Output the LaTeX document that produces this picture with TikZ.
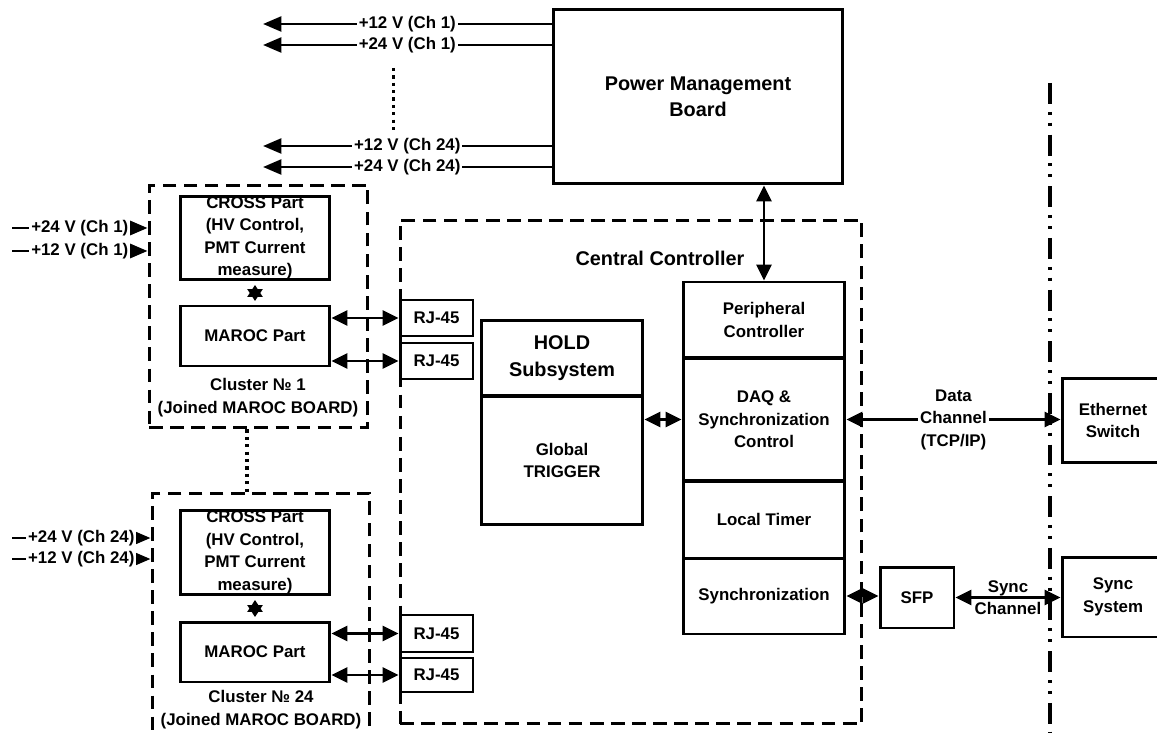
\documentclass[tikz,border=0pt]{standalone}
\usepackage{fontspec}
\setmainfont{Liberation Sans}
\usetikzlibrary{arrows.meta}

\tikzset{
  blk/.style={draw, line width=1.7pt, align=center, inner sep=0pt},
  grp/.style={draw, line width=1.7pt, dash pattern=on 7.8pt off 4.2pt, inner sep=0pt},
  lbl/.style={align=center, inner sep=1pt},
  onwire/.style={lbl, fill=white},
  bigtxt/.style={font=\bfseries\fontsize{11.3}{15}\selectfont},
  pwr/.style={line width=1.6pt, -{Triangle[length=10.5pt,width=8.5pt]}},
  dbl/.style={line width=1.6pt, {Triangle[length=9pt,width=8.5pt]}-{Triangle[length=9pt,width=8.5pt]}},
  star/.style={line width=1.6pt, shorten <=2pt, shorten >=2pt, {Triangle[length=6.8pt,width=8.5pt]}-{Triangle[length=6.8pt,width=8.5pt]}},
  dotline/.style={line width=2pt, dash pattern=on 1.8pt off 2.4pt},
  dashdot/.style={line width=2pt, dash pattern=on 11.9pt off 4.5pt on 1.7pt off 4.5pt on 1.7pt off 5.1pt},
}

\begin{document}
\begin{tikzpicture}[x=0.02cm, y=-0.02cm, every node/.style={font=\bfseries\fontsize{9.6}{12.8}\selectfont}]
\useasboundingbox (0,0) rectangle (1157,733);

% Dashed groups
\node[grp, minimum width=4.38cm, minimum height=4.86cm] (cl1) at (258.5,306.5) {};
\node[grp, minimum width=4.36cm, minimum height=4.94cm] (cl24) at (261,616.5) {};
\node[grp, minimum width=9.24cm, minimum height=10.08cm] (cc) at (631,472) {};
\node[bigtxt] (cclbl) at (660,258) {Central Controller};

% Power Management Board
\node[blk, bigtxt, minimum width=5.8cm, minimum height=3.5cm] (pmb) at (698,96.5) {Power Management\\Board};

% Cluster 1
\node[blk, minimum width=3cm, minimum height=1.68cm] (cross1) at (255,238) {CROSS Part\\(HV Control,\\PMT Current\\measure)};
\node[blk, minimum width=3cm, minimum height=1.2cm] (maroc1) at (255,336) {MAROC Part};
\node[lbl] (cl1lbl) at (258,397.5) {Cluster № 1\\(Joined MAROC BOARD)};

% Cluster 24
\node[blk, minimum width=3cm, minimum height=1.7cm] (cross24) at (255,552.5) {CROSS Part\\(HV Control,\\PMT Current\\measure)};
\node[blk, minimum width=3cm, minimum height=1.2cm] (maroc24) at (255,652) {MAROC Part};
\node[lbl] (cl24lbl) at (261,709.5) {Cluster № 24\\(Joined MAROC BOARD)};

% RJ-45 connectors
\node[blk, minimum width=1.46cm, minimum height=0.72cm] (rj1a) at (436.5,318) {RJ-45};
\node[blk, minimum width=1.46cm, minimum height=0.72cm] (rj1b) at (436.5,361) {RJ-45};
\node[blk, minimum width=1.46cm, minimum height=0.74cm] (rj24a) at (436.5,633.5) {RJ-45};
\node[blk, minimum width=1.46cm, minimum height=0.68cm] (rj24b) at (436.5,675) {RJ-45};

% HOLD / trigger
\node[blk, bigtxt, minimum width=3.24cm, minimum height=1.52cm] (hold) at (562,358) {HOLD\\Subsystem};
\node[blk, minimum width=3.24cm, minimum height=2.58cm] (trig) at (562,460.5) {Global\\TRIGGER};

% Controller column
\node[blk, minimum width=3.24cm, minimum height=1.52cm] (periph) at (764,320) {Peripheral\\Controller};
\node[blk, minimum width=3.24cm, minimum height=2.46cm] (daq) at (764,419.5) {DAQ \&\\Synchronization\\Control};
\node[blk, minimum width=3.24cm, minimum height=1.54cm] (timer) at (764,519.5) {Local Timer};
\node[blk, minimum width=3.24cm, minimum height=1.52cm] (syncb) at (764,596) {Synchronization};

% Outside
\node[blk, minimum width=1.48cm, minimum height=1.22cm] (sfp) at (917,597.5) {SFP};
\node[blk, minimum width=2.04cm, minimum height=1.7cm] (eth) at (1113,420.5) {Ethernet\\Switch};
\node[blk, minimum width=2.04cm, minimum height=1.6cm] (syncsys) at (1113,597) {Sync\\System};

\coordinate (bndtop) at (1050,83);
\coordinate (bndbot) at (1050,740);
\draw[dashdot] (bndtop) -- (bndbot);

% Power outputs
\coordinate (out1) at (263,24);
\coordinate (out2) at (263,45);
\coordinate (out3) at (263,146);
\coordinate (out4) at (263,167);
\draw[pwr] (pmb.west |- out1) -- (out1) node[midway, onwire] (p1) {+12 V (Ch 1)};
\draw[pwr] (pmb.west |- out2) -- (out2) node[midway, onwire] (p2) {+24 V (Ch 1)};
\draw[pwr] (pmb.west |- out3) -- (out3) node[midway, onwire] (p3) {+12 V (Ch 24)};
\draw[pwr] (pmb.west |- out4) -- (out4) node[midway, onwire] (p4) {+24 V (Ch 24)};
\draw[dotline, shorten <=6.8pt, shorten >=2.3pt] ([xshift=-0.28cm]p2.south) -- ([xshift=-0.28cm]p3.north |- p3.north);

% Power inputs
\coordinate (in1) at (12,228);
\coordinate (in2) at (12,251);
\coordinate (in3) at (12,538);
\coordinate (in4) at (12,559);
\draw[pwr] (in1) -- (in1 -| cl1.west) node[midway, onwire] (i1) {+24 V (Ch 1)};
\draw[pwr] (in2) -- (in2 -| cl1.west) node[midway, onwire] (i2) {+12 V (Ch 1)};
\draw[pwr] (in3) -- (in3 -| cl24.west) node[midway, onwire] (i3) {+24 V (Ch 24)};
\draw[pwr] (in4) -- (in4 -| cl24.west) node[midway, onwire] (i4) {+12 V (Ch 24)};

% Cluster links
\draw[star] (cross1) -- (maroc1);
\draw[star] (cross24) -- (maroc24);
\draw[dbl] (maroc1.east |- rj1a.west) -- (rj1a.west);
\draw[dbl] (maroc1.east |- rj1b.west) -- (rj1b.west);
\draw[dbl] (maroc24.east |- rj24a.west) -- (rj24a.west);
\draw[dbl] (maroc24.east |- rj24b.west) -- (rj24b.west);
\draw[dotline] ([xshift=-0.23cm]cl1.south) -- ([xshift=-0.23cm]cl1.south |- cl24.north);

% Controller links
\draw[dbl] (pmb.south -| periph.north) -- (periph.north);
\draw[dbl] (trig.east |- daq.west) -- (daq.west);
\draw[dbl] (syncb.east) -- (syncb.east -| sfp.west);
\draw[dbl] (daq.east) -- (daq.east -| eth.west) node[midway, onwire] (datalbl) {Data\\Channel\\(TCP/IP)};
\draw[dbl] (sfp.east) -- (sfp.east -| syncsys.west) node[midway, lbl] (synclbl) {Sync\\Channel};

\end{tikzpicture}
\end{document}
